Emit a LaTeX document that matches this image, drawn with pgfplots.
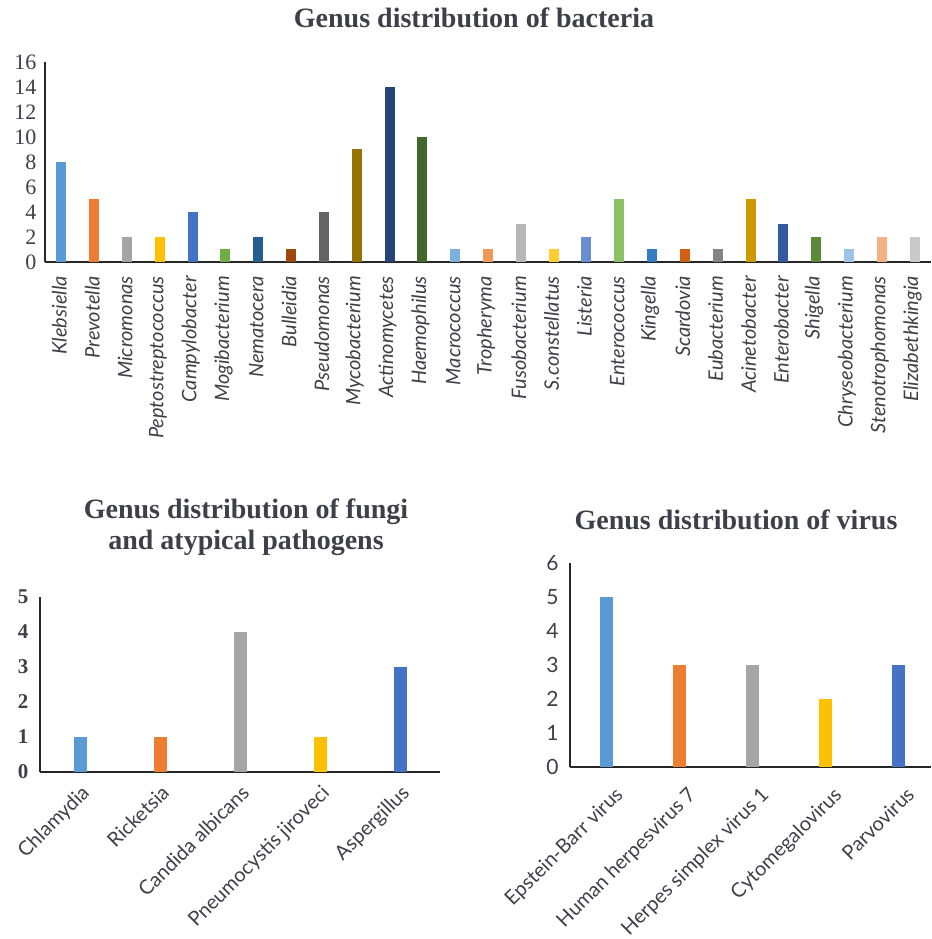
\documentclass[border=0pt]{standalone}
\usepackage{fontspec}
\setmainfont{Liberation Serif}
\newfontfamily\labfont{Lato}
\usepackage{pgfplots}
\pgfplotsset{compat=1.18}
\definecolor{c1}{HTML}{5B9BD5}
\definecolor{c2}{HTML}{ED7D31}
\definecolor{c3}{HTML}{A5A5A5}
\definecolor{c4}{HTML}{FFC000}
\definecolor{c5}{HTML}{4472C4}
\definecolor{c6}{HTML}{70AD47}
\definecolor{c7}{HTML}{255E91}
\definecolor{c8}{HTML}{9E480E}
\definecolor{c9}{HTML}{636363}
\definecolor{c10}{HTML}{997300}
\definecolor{c11}{HTML}{264478}
\definecolor{c12}{HTML}{43682B}
\definecolor{c13}{HTML}{7CAFDD}
\definecolor{c14}{HTML}{F1975A}
\definecolor{c15}{HTML}{B7B7B7}
\definecolor{c16}{HTML}{FFCD33}
\definecolor{c17}{HTML}{698ED0}
\definecolor{c18}{HTML}{8CC168}
\definecolor{c19}{HTML}{327DC2}
\definecolor{c20}{HTML}{D26012}
\definecolor{c21}{HTML}{848484}
\definecolor{c22}{HTML}{CC9A00}
\definecolor{c23}{HTML}{335AA1}
\definecolor{c24}{HTML}{5A8A39}
\definecolor{c25}{HTML}{9DC3E6}
\definecolor{c26}{HTML}{F4B183}
\definecolor{c27}{HTML}{C9C9C9}
\definecolor{txt}{HTML}{3F3F4A}
\newcommand{\bb}[3]{\addplot[fill=#1, draw=none] coordinates {(#2,#3)};}
\pgfplotsset{
  mybar/.style={
    scale only axis,
    ybar, bar shift=0pt,
    axis lines*=left,
    axis line style={black!85, line width=1.6pt},
    major tick length=0pt,
    ymin=0,
    ytick distance=1,
    /pgf/number format/assume math mode=true,
    clip=false,
  }
}
\begin{document}
\begin{tikzpicture}
\useasboundingbox (0pt,0pt) rectangle (931pt,939pt);
\node[font=\bfseries\fontsize{28}{30}\selectfont, text=txt] at (474pt,921pt) {Genus distribution of bacteria};
\begin{axis}[mybar,
  at={(45pt,677pt)}, anchor=south west,
  width=886pt, height=200pt,
  xmin=-0.5, xmax=26.5, ymax=16, ytick={0,2,...,16},
  bar width=10pt,
  xtick={0,...,26},
  xticklabels={Klebsiella,Prevotella,Micromonas,Peptostreptococcus,Campylobacter,Mogibacterium,Nematocera,Bulleidia,Pseudomonas,Mycobacterium,Actinomycetes,Haemophilus,Macrococcus,Tropheryma,Fusobacterium,S.constellatus,Listeria,Enterococcus,Kingella,Scardovia,Eubacterium,Acinetobacter,Enterobacter,Shigella,Chryseobacterium,Stenotrophomonas,Elizabethkingia},
  xticklabel style={rotate=90, anchor=east, font=\labfont\itshape\fontsize{20}{21}\selectfont, text=txt, inner sep=2pt, yshift=2pt, xshift=-12pt},
  yticklabel style={font=\fontsize{22}{22}\selectfont, text=txt, xshift=-5pt},
]
\bb{c1}{0}{8}
\bb{c2}{1}{5}
\bb{c3}{2}{2}
\bb{c4}{3}{2}
\bb{c5}{4}{4}
\bb{c6}{5}{1}
\bb{c7}{6}{2}
\bb{c8}{7}{1}
\bb{c9}{8}{4}
\bb{c10}{9}{9}
\bb{c11}{10}{14}
\bb{c12}{11}{10}
\bb{c13}{12}{1}
\bb{c14}{13}{1}
\bb{c15}{14}{3}
\bb{c16}{15}{1}
\bb{c17}{16}{2}
\bb{c18}{17}{5}
\bb{c19}{18}{1}
\bb{c20}{19}{1}
\bb{c21}{20}{1}
\bb{c22}{21}{5}
\bb{c23}{22}{3}
\bb{c24}{23}{2}
\bb{c25}{24}{1}
\bb{c26}{25}{2}
\bb{c27}{26}{2}
\end{axis}

\node[font=\bfseries\fontsize{28}{31}\selectfont, text=txt, align=center] at (246pt,412pt) {Genus distribution of fungi\\and atypical pathogens};
\begin{axis}[mybar,
  at={(40pt,167pt)}, anchor=south west,
  width=400pt, height=175pt,
  xmin=-0.5, xmax=4.5, ymax=5,
  bar width=13pt,
  xtick={0,...,4},
  xticklabels={Chlamydia,Ricketsia,Candida albicans,Pneumocystis jiroveci,Aspergillus},
  xticklabel style={rotate=45, anchor=north east, font=\labfont\fontsize{20}{21}\selectfont, text=txt, inner sep=1pt, yshift=-7pt, xshift=-7pt},
  yticklabel style={font=\bfseries\fontsize{21}{21}\selectfont, text=txt, xshift=-8pt},
]
\bb{c1}{0}{1}
\bb{c2}{1}{1}
\bb{c3}{2}{4}
\bb{c4}{3}{1}
\bb{c5}{4}{3}
\end{axis}

\node[font=\bfseries\fontsize{28}{30}\selectfont, text=txt] at (736pt,419pt) {Genus distribution of virus};
\begin{axis}[mybar,
  at={(570pt,172pt)}, anchor=south west,
  width=361pt, height=204pt,
  xmin=-0.5, xmax=4.45, ymax=6,
  bar width=13pt,
  xtick={0,...,4},
  xticklabels={Epstein-Barr virus,Human herpesvirus 7,Herpes simplex virus 1,Cytomegalovirus,Parvovirus},
  xticklabel style={rotate=45, anchor=north east, font=\labfont\fontsize{20}{21}\selectfont, text=txt, inner sep=1pt, yshift=-17pt, xshift=-7pt},
  yticklabel style={font=\labfont\fontsize{21}{21}\selectfont, text=txt, xshift=-8pt},
]
\bb{c1}{0}{5}
\bb{c2}{1}{3}
\bb{c3}{2}{3}
\bb{c4}{3}{2}
\bb{c5}{4}{3}
\end{axis}
\end{tikzpicture}
\end{document}
